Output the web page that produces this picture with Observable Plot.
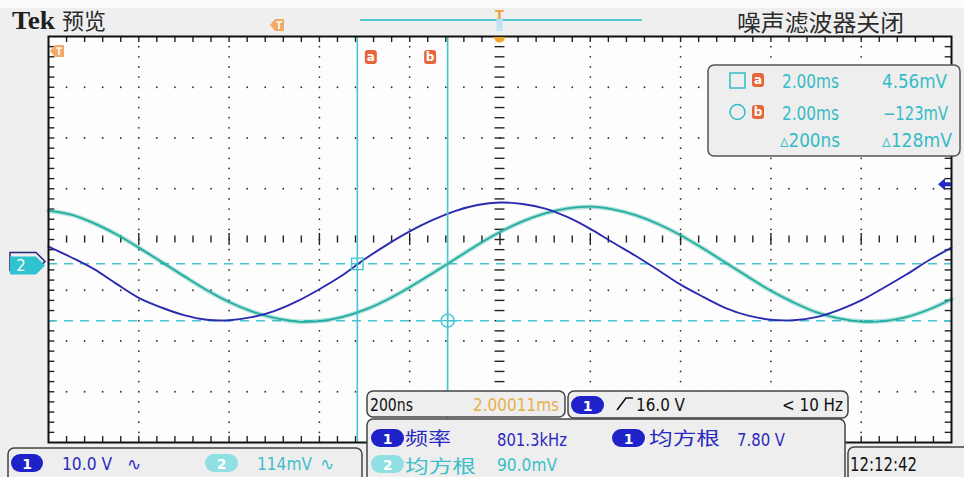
<!DOCTYPE html>
<html>
<head>
<meta charset="utf-8">
<script src="https://cdn.jsdelivr.net/npm/d3@7"></script>
<script src="https://cdn.jsdelivr.net/npm/@observablehq/plot@0.6"></script>
<style>
  html, body { margin: 0; padding: 0; background: #efefef; }
  #scope { width: 964px; height: 477px; overflow: hidden; }
  #scope svg { display: block; }
</style>
</head>
<body>
<div id="scope"></div>
<script>
// ---- Acquisition (time in ns relative to the trigger point, 200 ns/div) ----
const timeNs = [-1000, -950, -900, -850, -800, -750, -700, -650, -600, -550,
  -500, -450, -400, -350, -300, -250, -200, -150, -100, -50,
  0, 50, 100, 150, 200, 250, 300, 350, 400, 450,
  500, 550, 600, 650, 700, 750, 800, 850, 900, 950, 1000];

// Channel 1 samples, volts
const ch1Volts = [3.8, 1.7, -0.6, -3.5, -6.3, -8.2, -9.7, -10.6, -10.7, -10.1,
  -8.9, -7.0, -4.6, -1.9, 1.3, 4.2, 6.8, 9.0, 10.8, 12.0,
  12.5, 12.2, 11.3, 9.6, 7.3, 4.6, 2.0, -0.8, -3.7, -6.1,
  -8.3, -9.8, -10.6, -10.7, -10.1, -8.7, -6.8, -4.3, -1.7, 1.1, 3.6];

// Channel 2 samples, millivolts
const ch2mV = [124, 115, 96, 71, 41, 9, -23, -54, -81, -102,
  -117, -125, -124, -115, -99, -76, -48, -17, 15, 47,
  76, 100, 118, 129, 133, 127, 114, 94, 69, 39,
  7, -25, -56, -82, -104, -118, -125, -124, -115, -98, -75];

// Vertical settings
const ch1Scale = 10.0;   // V/div
const ch2Scale = 114;    // mV/div
const ch1Pos = -0.52;    // div
const ch2Pos = -0.52;    // div
const trigLevelV = 16.0; // V, channel 1

// Cursors: two time cursors (ns) and two channel 2 level cursors (mV)
const cursorTimes = [-316, -116];
const cursorLevels = [4.56, -123];
const cursorNames = ["a", "b"];

// Readout texts
const cursorTimeText = ["2.00ms", "2.00ms"];
const cursorLevelText = ["4.56mV", "\u2212123mV"];
const deltaTimeText = "\u25B5200ns";
const deltaLevelText = "\u25B5128mV";
const timebaseText = "200ns";
const horizPosText = "2.00011ms";
const trigText = "16.0 V";
const trigFreqText = "< 10 Hz";
const ch1ScaleText = "10.0 V";
const ch2ScaleText = "114mV";
const freqLabel = "频率", rmsLabel = "均方根";
const freqValue = "801.3kHz", rms1Value = "7.80 V", rms2Value = "90.0mV";
const clockText = "12:12:42";

// ---- Derived tables ----
const toDiv1 = v => v / ch1Scale + ch1Pos;
const toDiv2 = v => v / ch2Scale + ch2Pos;
const trace1 = timeNs.map((t, i) => ({t, div: toDiv1(ch1Volts[i])}));
const trace2 = timeNs.map((t, i) => ({t, div: toDiv2(ch2mV[i])}));

// Graticule: 10 x 8 divisions, 5 minor steps per division
const minorT = d3.range(-1000, 1000.1, 40);
const minorV = d3.range(-4, 4.001, 0.2).map(v => Math.round(v * 10) / 10);
const majorT = [-800, -600, -400, -200, 200, 400, 600, 800];
const majorV = [-3, -2, -1, 1, 2, 3];
const gridDots = [];
for (const t of majorT) for (const v of minorV) if (Math.abs(v) < 3.95) gridDots.push({t, v});
for (const v of majorV) for (const t of minorT) if (Math.abs(t) < 990 && !majorT.includes(t)) gridDots.push({t, v});
const innerT = minorT.filter(t => Math.abs(t) < 990);
const innerV = minorV.filter(v => Math.abs(v) < 3.95);

const cyan = "#45c5d3";
const teal = "#22ad9f";
const blue = "#2b2bb0";

const chart = Plot.plot({
  width: 964,
  height: 477,
  marginLeft: 48,
  marginRight: 13,
  marginTop: 36,
  marginBottom: 35,
  x: {domain: [-1000, 1000], axis: null},
  y: {domain: [-4, 4], axis: null},
  style: {background: "transparent", overflow: "visible"},
  marks: [
    Plot.frame({fill: "#fdfdfd", stroke: "none"}),
    Plot.dot(gridDots, {x: "t", y: "v", r: 0.9, fill: "#333", stroke: "none"}),
    // centre cross with minor ticks
    Plot.ruleX(innerT, {x: d => d, y1: d => (d % 200 === 0 ? -0.12 : -0.07), y2: d => (d % 200 === 0 ? 0.12 : 0.07), stroke: "#222", strokeWidth: 1.4}),
    Plot.ruleY(innerV, {y: d => d, x1: -11, x2: 11, stroke: "#222", strokeWidth: 1.4}),
    // border ticks
    Plot.ruleX(innerT, {x: d => d, y1: 4, y2: 3.88, stroke: "#222", strokeWidth: 1.4}),
    Plot.ruleX(innerT, {x: d => d, y1: -4, y2: -3.88, stroke: "#222", strokeWidth: 1.4}),
    Plot.ruleY(innerV, {y: d => d, x1: -1000, x2: -986, stroke: "#222", strokeWidth: 1.4}),
    Plot.ruleY(innerV, {y: d => d, x1: 1000, x2: 986, stroke: "#222", strokeWidth: 1.4}),
    // level cursors
    Plot.ruleY(cursorLevels, {y: d => toDiv2(d), stroke: cyan, strokeWidth: 1.5, strokeDasharray: "9,7"}),
    // traces
    Plot.line(trace2, {x: "t", y: "div", stroke: teal, strokeWidth: 4.5, strokeOpacity: 0.35, curve: "catmull-rom"}),
    Plot.line(trace2, {x: "t", y: "div", stroke: teal, strokeWidth: 1.8, curve: "catmull-rom"}),
    Plot.line(trace1, {x: "t", y: "div", stroke: blue, strokeWidth: 1.9, curve: "catmull-rom"}),
    // time cursors
    Plot.ruleX(cursorTimes, {x: d => d, stroke: cyan, strokeWidth: 1.6}),
    Plot.dot([0], {x: () => cursorTimes[0], y: () => toDiv2(cursorLevels[0]), symbol: "square", r: 6.5, stroke: cyan, strokeWidth: 1.4, fill: "none"}),
    Plot.dot([0], {x: () => cursorTimes[1], y: () => toDiv2(cursorLevels[1]), symbol: "circle", r: 6.5, stroke: cyan, strokeWidth: 1.4, fill: "none"}),
    Plot.dot([0], {x: () => cursorTimes[1], y: () => toDiv2(cursorLevels[1]), symbol: "plus", r: 9, stroke: cyan, strokeWidth: 1.2, fill: "none"}),
    Plot.frame({stroke: "#111", strokeWidth: 2})
  ]
});

document.getElementById("scope").appendChild(chart);

// ---- Screen annotations (drawn on the same SVG) ----
const sx = chart.scale("x"), sy = chart.scale("y");
const X = t => sx.apply(t), Y = v => sy.apply(v);
const svg = d3.select(chart);
const ui = svg.append("g");

const narrow = "'Liberation Sans Narrow','Arial Narrow','DejaVu Sans Condensed',sans-serif";
const cjk = "'Noto Sans CJK SC',sans-serif";

function text(x, y, s, o = {}) {
  const el = ui.append("text")
    .attr("x", x).attr("y", y)
    .attr("font-family", o.family || narrow)
    .attr("font-size", o.size || 17)
    .attr("font-weight", o.weight || "normal")
    .attr("fill", o.fill || "#222")
    .attr("text-anchor", o.anchor || "start")
    .text(s);
  if (o.len) el.attr("textLength", o.len).attr("lengthAdjust", "spacingAndGlyphs");
  return el;
}
function box(x, y, w, h, o = {}) {
  return ui.append("rect").attr("x", x).attr("y", y).attr("width", w).attr("height", h)
    .attr("rx", o.rx ?? 6).attr("fill", o.fill || "#eeeeee")
    .attr("stroke", o.stroke || "#444").attr("stroke-width", o.sw || 1.5);
}
function pill(x, y, label, fill, w = 33, h = 18) {
  box(x, y, w, h, {rx: h / 2, fill, stroke: "none"});
  text(x + w / 2, y + h - 3.5, label, {anchor: "middle", fill: "#fff", size: 14, family: "'DejaVu Sans',sans-serif", weight: "bold"});
}
function tag(cx, cy, label) {
  box(cx - 6, cy - 7, 12, 14, {rx: 3, fill: "#e4673c", stroke: "none"});
  text(cx, cy + 4, label, {anchor: "middle", fill: "#fff", size: 12, family: "'DejaVu Sans',sans-serif", weight: "bold"});
}

// top strip
ui.append("rect").attr("x", 0).attr("y", 0).attr("width", 964).attr("height", 8).attr("fill", "#fbfbfb");
text(12, 29, "Tek", {family: "'Liberation Serif',serif", weight: "bold", size: 25, fill: "#1e1e1e", len: 43});
text(62, 29, "预览", {family: cjk, size: 22, fill: "#2a2a2a"});
text(737, 31, "噪声滤波器关闭", {family: cjk, size: 23, fill: "#2a2a2a", len: 167});

// record-window bar with trigger point
ui.append("line").attr("x1", 360).attr("x2", 642).attr("y1", 20).attr("y2", 20).attr("stroke", "#52c8d1").attr("stroke-width", 2);
ui.append("rect").attr("x", X(0) - 3).attr("y", 18).attr("width", 6).attr("height", 13).attr("fill", "#bfe3f2");
text(X(0), 19, "T", {anchor: "middle", fill: "#f0a23a", size: 13, family: "'DejaVu Sans',sans-serif", weight: "bold"});
ui.append("path").attr("d", `M${X(0) - 6},37 L${X(0) + 6},37 L${X(0) + 4},41 Q${X(0)},44 ${X(0) - 4},41 Z`).attr("fill", "#f2a628");

// horizontal position markers
function posIcon(x, y) {
  ui.append("path").attr("d", `M${x},${y} L${x + 5},${y - 6} L${x + 14},${y - 6} L${x + 14},${y + 6} L${x + 5},${y + 6} Z`).attr("fill", "#f1aa66");
  ui.append("path").attr("d", `M${x + 6},${y - 3} L${x + 12},${y - 3} M${x + 9},${y - 3} L${x + 9},${y + 4}`).attr("stroke", "#fff").attr("stroke-width", 1.6);
}
posIcon(270, 25);
posIcon(50, 51);

// cursor tags
tag(X(cursorTimes[0]) + 14, 57, cursorNames[0]);
tag(X(cursorTimes[1]) - 17, 57, cursorNames[1]);

// channel ground markers
function gndMarker(y, fill, label, stroke) {
  ui.append("path").attr("d", `M10,${y - 9} L36,${y - 9} L45,${y} L36,${y + 9} L10,${y + 9} Z`)
    .attr("fill", fill).attr("stroke", stroke || "none").attr("stroke-width", 1.5);
  if (label) text(21, y + 6, label, {anchor: "middle", fill: "#fff", size: 15, family: "'DejaVu Sans',sans-serif"});
}
gndMarker(Y(ch1Pos) - 4, "#efefef", null, "#25257a");
gndMarker(Y(ch2Pos), "#2ec3cf", "2");

// trigger level arrow (channel 1)
const ty = Y(toDiv1(trigLevelV));
ui.append("path").attr("d", `M938,${ty} L945,${ty - 6} L945,${ty - 2} L951,${ty - 2} L951,${ty + 2} L945,${ty + 2} L945,${ty + 6} Z`).attr("fill", "#2626c4");

// cursor readout panel
box(708, 65, 252, 91, {fill: "#eeeeee", stroke: "#555"});
const rc = "#35bcc6";
ui.append("rect").attr("x", 730).attr("y", 73).attr("width", 15).attr("height", 15).attr("fill", "none").attr("stroke", rc).attr("stroke-width", 1.5);
ui.append("circle").attr("cx", 737.5).attr("cy", 112).attr("r", 7.5).attr("fill", "none").attr("stroke", rc).attr("stroke-width", 1.5);
tag(758, 80, cursorNames[0]);
tag(758, 112, cursorNames[1]);
text(782, 88, cursorTimeText[0], {fill: rc, size: 19, len: 57});
text(782, 120, cursorTimeText[1], {fill: rc, size: 19, len: 57});
text(947, 88, cursorLevelText[0], {fill: rc, size: 19, anchor: "end", len: 65});
text(948, 120, cursorLevelText[1], {fill: rc, size: 19, anchor: "end", len: 65});
text(780, 147, deltaTimeText, {fill: rc, size: 19, len: 60});
text(952, 147, deltaLevelText, {fill: rc, size: 19, anchor: "end", len: 70});

// bottom readouts
box(8, 448, 354, 40, {fill: "#eeeeee"});
pill(11, 454, "1", "#1f22c8", 32, 18);
text(62, 470, ch1ScaleText, {fill: "#2a2ac0", size: 18, len: 50});
text(127, 470, "\u223F", {fill: "#2a2ac0", size: 17, family: "'DejaVu Sans',sans-serif"});
pill(205, 454, "2", "#90dfe3", 33, 18);
text(257, 470, ch2ScaleText, {fill: "#3dbfc8", size: 18, len: 55});
text(320, 470, "\u223F", {fill: "#3dbfc8", size: 17, family: "'DejaVu Sans',sans-serif"});

box(367, 391, 198, 26, {fill: "#eeeeee"});
text(370, 411, timebaseText, {size: 17, fill: "#111", len: 43});
text(559, 411, horizPosText, {size: 17, fill: "#e6b04a", anchor: "end", len: 86});

box(568, 391, 280, 27, {fill: "#eeeeee"});
pill(571, 396, "1", "#1f22c8", 33, 18);
ui.append("path").attr("d", "M617,410 L626,398 L633,398").attr("fill", "none").attr("stroke", "#111").attr("stroke-width", 1.6);
text(636, 411, trigText, {size: 17, fill: "#111", len: 49});
text(843, 411, trigFreqText, {size: 17, fill: "#111", anchor: "end", len: 61});

box(367, 419, 478, 66, {fill: "#eeeeee"});
pill(371, 429, "1", "#1f22c8", 33, 18);
text(405, 445, freqLabel, {family: cjk, size: 18, fill: "#2a2ac0", len: 46});
text(497, 446, freqValue, {size: 17, fill: "#2a2ac0", len: 70});
pill(612, 429, "1", "#1f22c8", 33, 18);
text(649, 445, rmsLabel, {family: cjk, size: 18, fill: "#2a2ac0", len: 71});
text(737, 446, rms1Value, {size: 17, fill: "#2a2ac0", len: 48});
pill(371, 455, "2", "#90dfe3", 33, 18);
text(405, 473, rmsLabel, {family: cjk, size: 18, fill: "#3dbfc8", len: 71});
text(497, 471, rms2Value, {size: 17, fill: "#3dbfc8", len: 60});

box(848, 447, 125, 40, {fill: "#eeeeee"});
text(850, 471, clockText, {size: 19, fill: "#111", len: 67});
</script>
</body>
</html>
